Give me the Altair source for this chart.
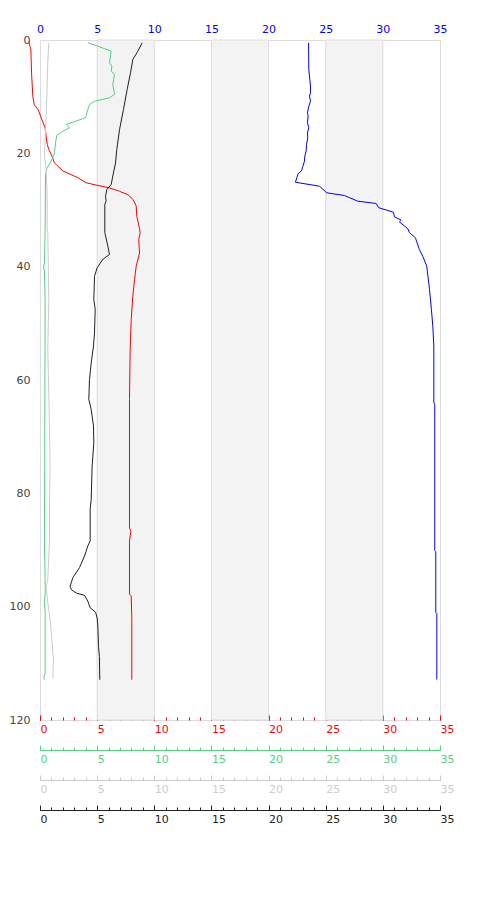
import altair as alt
import pandas as pd

# ---- data (depth in m, value on 0-35 scale) ----
blue_depth = [0.5, 5.2, 8.15, 9.3, 9.9, 10.8, 11.7, 12.85, 13.4, 14.6, 15.5, 16.4, 17.3, 18.4,
              19.6, 20.5, 21.4, 22.3, 23.1, 23.6, 24.3, 25.1, 25.8, 26.97, 27.44, 28.44, 28.85,
              29.6, 30.4, 31.2, 31.8, 32.1, 33.3, 34.0, 34.9, 37.0, 38.2, 39.9, 44.0, 47.6,
              50.5, 54.0, 64.0, 64.3, 90.1, 90.3, 101.0, 101.2, 112.85]
blue_val = [23.5, 23.52, 23.67, 23.67, 23.58, 23.67, 23.52, 23.40, 23.46, 23.40, 23.52, 23.40,
            23.43, 23.32, 23.29, 23.17, 23.14, 23.0, 22.88, 22.59, 22.47, 22.35, 24.45, 25.1,
            26.64, 27.8, 29.41, 29.64, 30.93, 31.02, 31.6, 31.45, 32.18, 32.33, 32.85, 33.2,
            33.5, 33.84, 34.08, 34.25, 34.37, 34.46, 34.46, 34.54, 34.54, 34.63, 34.63, 34.72,
            34.72]

red_depth = [0.3, 1.68, 5.8, 9.9, 11.4, 12.3, 13.7, 15.5, 16.97, 18.4, 19.3, 20.2, 21.7, 23.1,
             24.3, 25.2, 25.6, 26.1, 26.7, 27.3, 28.1, 29.3, 31.1, 33.3, 34.0, 35.2, 37.6, 39.9,
             42.3, 45.2, 49.3, 54.6, 63.4, 86.1, 86.7, 88.4, 97.8, 98.1, 101.7, 112.9]
red_val = [-0.98, -0.80, -0.74, -0.63, -0.51, -0.16, 0.1, 0.45, 0.54, 0.63, 0.77, 0.98, 1.27,
           2.0, 3.31, 4.04, 4.91, 6.08, 6.96, 7.69, 8.12, 8.42, 8.47, 8.71, 8.76, 8.64, 8.71,
           8.42, 8.27, 8.12, 7.98, 7.89, 7.83, 7.83, 7.95, 7.83, 7.83, 7.98, 8.03, 8.03]

green_depth = [0.5, 0.97, 1.97, 4.0, 4.6, 5.5, 6.1, 7.85, 9.6, 10.2, 10.8, 11.4, 12.85, 13.7,
               14.3, 14.9, 15.5, 16.1, 16.85, 18.1, 19.9, 20.8, 21.7, 22.6, 24.0, 33.4, 39.3,
               40.2, 40.8, 45.8, 89.3, 95.2, 97.6, 99.3, 101.0, 111.7, 112.6, 112.9]
green_val = [4.18, 4.91, 6.23, 6.08, 6.29, 6.23, 6.52, 6.37, 6.52, 6.08, 4.77, 4.33, 4.10, 3.98,
             3.17, 2.29, 2.58, 2.0, 1.47, 1.36, 1.27, 1.12, 0.89, 0.60, 0.48, 0.45, 0.39, 0.30,
             0.39, 0.45, 0.39, 0.45, 0.45, 0.39, 0.45, 0.45, 0.33, 0.39]

gray_depth = [0.5, 4.0, 9.9, 15.8, 20.5, 22.9, 27.6, 33.4, 34.0, 45.8, 54.6, 62.3, 69.3, 75.2,
              81.1, 88.1, 95.2, 96.4, 99.3, 102.3, 109.3, 112.6]
gray_val = [0.77, 0.68, 0.60, 0.48, 0.39, 0.54, 0.63, 0.63, 0.68, 0.77, 0.68, 0.77, 0.83, 0.89,
            0.83, 0.83, 0.68, 0.54, 0.68, 0.89, 1.18, 1.12]

black_depth = [0.5, 1.97, 3.45, 5.8, 8.7, 12.3, 15.8, 19.3, 21.7, 24.0, 25.5, 26.4, 27.6, 28.4,
               29.0, 34.0, 36.4, 37.85, 38.7, 40.2, 41.7, 45.8, 47.5, 51.7, 54.0, 57.0, 59.9,
               63.4, 65.2, 68.1, 71.1, 75.2, 81.1, 82.8, 88.4, 89.3, 91.1, 93.1, 94.9, 96.4,
               96.97, 97.6, 98.0, 99.0, 100.2, 100.97, 102.0, 103.4, 107.0, 108.8, 112.9]
black_val = [8.94, 8.56, 8.12, 7.92, 7.63, 7.30, 6.96, 6.72, 6.61, 6.37, 6.23, 5.85, 5.73, 5.79,
             5.67, 5.67, 5.94, 6.08, 5.50, 5.0, 4.77, 4.71, 4.83, 4.77, 4.68, 4.48, 4.33, 4.27,
             4.48, 4.68, 4.71, 4.56, 4.48, 4.39, 4.39, 4.18, 3.89, 3.46, 2.87, 2.64, 2.73, 3.17,
             3.89, 4.18, 4.39, 4.86, 5.0, 5.06, 5.12, 5.2, 5.23]

band_start = [5, 15, 25]
band_end = [10, 20, 30]
x_ticks_major = [0, 5, 10, 15, 20, 25, 30, 35]
x_ticks_minor = list(range(0, 36))
y_ticks = [0, 20, 40, 60, 80, 100, 120]

series_names = ["blue", "red", "green", "gray", "black"]
series_colors = ["#0000ff", "#ff0000", "#50d282", "#cccccc", "#1c1f2a"]
series_data = [(blue_depth, blue_val), (red_depth, red_val), (green_depth, green_val),
               (gray_depth, gray_val), (black_depth, black_val)]

rows = []
for name, (ds, vs) in zip(series_names, series_data):
    for i, (d, v) in enumerate(zip(ds, vs)):
        rows.append({"series": name, "depth": d, "value": v, "i": i})
df = pd.DataFrame(rows)
bands = pd.DataFrame({"start": band_start, "end": band_end})
yticks_df = pd.DataFrame({"depth": y_ticks})

xscale = alt.Scale(domain=[0, 35], nice=False, zero=False)
yscale = alt.Scale(domain=[0, 120], reverse=True, nice=False, zero=False)

FS = 11


def bottom_axis(color, offset, major, domain):
    if major:
        return alt.Axis(orient="bottom", offset=offset, values=x_ticks_major,
                        tickSize={"expr": "-5"}, tickColor=color, tickWidth=1,
                        domain=domain, domainColor=color, domainWidth=1,
                        labels=True, labelColor=color, labelFontSize=FS, labelAlign="left",
                        labelPadding=8, labelFlush=False, labelOverlap=False,
                        grid=False, title=None)
    return alt.Axis(orient="bottom", offset=offset, values=x_ticks_minor,
                    tickSize={"expr": "-3"}, tickColor=color, tickWidth=1,
                    domain=False, labels=False, grid=False, title=None)


top_axis = alt.Axis(orient="top", values=x_ticks_major, ticks=False, domain=False,
                    labelColor="#0000ff", labelFontSize=FS, labelPadding=6,
                    labelFlush=False, labelOverlap=False, grid=False, title=None)

y_axis = alt.Axis(orient="left", values=y_ticks, ticks=False, domain=False,
                  labelColor="#444444", labelFontSize=FS, labelPadding=10,
                  labelFlush=False, labelOverlap=False, grid=False, title=None)

band_layer = alt.Chart(bands).mark_rect(fill="#f3f3f3", stroke="#dddddd", strokeWidth=1).encode(
    x=alt.X("start:Q", scale=xscale, axis=top_axis),
    x2="end:Q",
    y=alt.YDatum(0, scale=yscale, axis=None),
    y2=alt.Y2Datum(120),
)

# carrier of the depth axis
y_layer = alt.Chart(yticks_df).mark_point(opacity=0).encode(
    y=alt.Y("depth:Q", scale=yscale, axis=y_axis),
    x=alt.XDatum(0, scale=xscale, axis=None),
)


def helper(axis):
    return alt.Chart(bands).mark_point(opacity=0).encode(
        x=alt.X("start:Q", scale=xscale, axis=axis))


helpers = [
    helper(bottom_axis("#ff0000", 0, False, False)),
    helper(bottom_axis("#50d282", 30, True, True)),
    helper(bottom_axis("#50d282", 30, False, False)),
    helper(bottom_axis("#cccccc", 60, True, True)),
    helper(bottom_axis("#cccccc", 60, False, False)),
    helper(bottom_axis("#222222", 90, True, True)),
    helper(bottom_axis("#222222", 90, False, False)),
]

lines = alt.Chart(df).mark_line(strokeWidth=1, clip=False).encode(
    x=alt.X("value:Q", scale=xscale, axis=bottom_axis("#ff0000", 0, True, False)),
    y=alt.Y("depth:Q", scale=yscale, axis=None),
    color=alt.Color("series:N", scale=alt.Scale(domain=series_names, range=series_colors),
                    legend=None),
    order="i:Q",
)

chart = alt.layer(band_layer, y_layer, *helpers, lines).resolve_scale(
    x="shared", y="shared"
).resolve_axis(
    x="independent", y="independent"
).properties(
    width=400, height=680, autosize="none",
    padding={"left": 32, "top": 32, "right": 24, "bottom": 140},
).configure(font="DejaVu Sans").configure_view(stroke="#dddddd")

chart.save("out.html", embed_options={"renderer": "svg", "actions": False})
